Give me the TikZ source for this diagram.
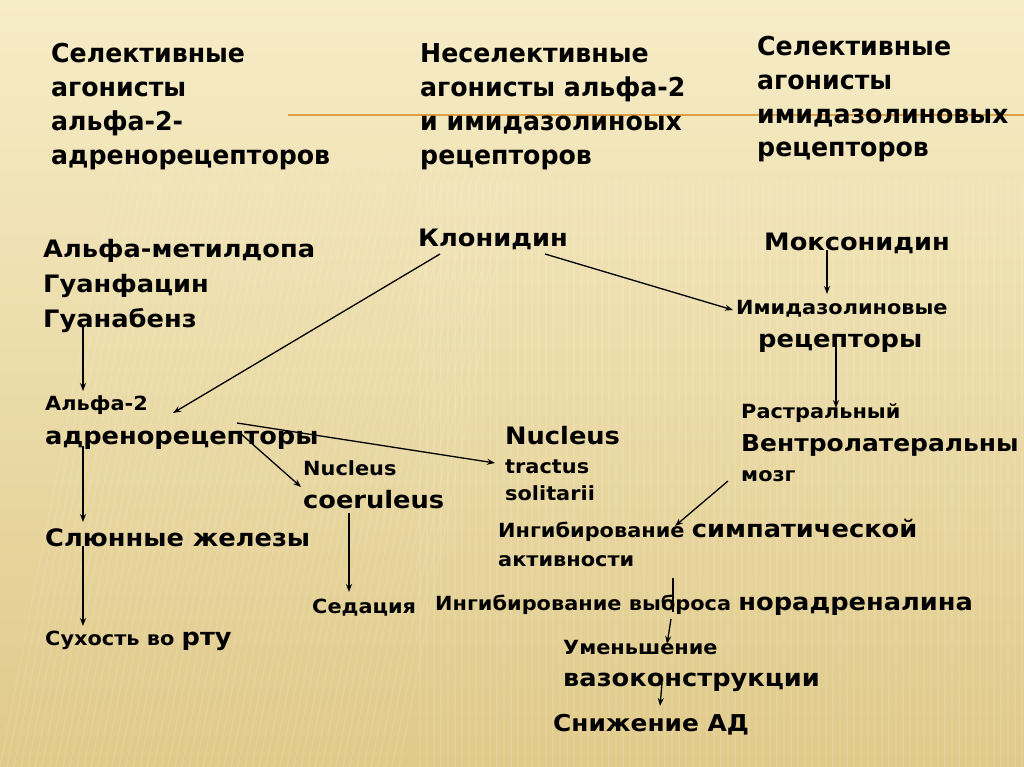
\documentclass[tikz,border=0pt]{standalone}
\usepackage{fontspec}
\setmainfont{DejaVu Sans}
\newfontfamily\hdrfont{DejaVu Sans}[FakeStretch=0.97]
\newfontfamily\bodyfont{DejaVu Sans}[FakeStretch=1.07]
\usetikzlibrary{arrows.meta}
\tikzset{
  hdr/.style={anchor=base west, inner sep=0pt, font=\hdrfont\bfseries\fontsize{26}{30}\selectfont},
  big/.style={anchor=base west, inner sep=0pt, font=\bodyfont\bfseries\fontsize{24}{28}\selectfont},
  sml/.style={anchor=base west, inner sep=0pt, font=\bodyfont\bfseries\fontsize{19.5}{22}\selectfont},
  arr/.style={draw=black, line width=1.3pt, -{Stealth[length=8pt,width=6pt]}},
  ln/.style={draw=black, line width=1.3pt},
  stripe/.style={draw=white, line width=1.6pt, opacity=0.10}
}
\newcommand{\Bg}{\fontsize{24}{28}\selectfont}
\begin{document}
\begin{tikzpicture}[x=1pt,y=-1pt]
\useasboundingbox (0,0) rectangle (1024,767);
\shade[top color={rgb,255:red,246;green,236;blue,198}, bottom color={rgb,255:red,224;green,202;blue,138}] (0,0) rectangle (1024,767);
% texture stripes
\begin{scope}
\clip (0,0) rectangle (1024,767);
\foreach \i in {0,7,...,400} { \draw[stripe] (\i,767) -- (\i+120,150); }
\foreach \i in {420,427,...,1024} { \draw[stripe] (\i,180) -- (\i,767); }
\end{scope}
% orange rule
\draw[line width=2.5pt, draw={rgb,255:red,222;green,160;blue,70}] (288,115) -- (1024,115);
% headers
\node[hdr] (h1a) at (51,63) {Селективные};
\node[hdr] (h1b) at (51,97) {агонисты};
\node[hdr] (h1c) at (51,131) {альфа-2-};
\node[hdr] (h1d) at (51,165) {адренорецепторов};
\node[hdr] (h2a) at (420,63) {Неселективные};
\node[hdr] (h2b) at (420,97) {агонисты альфа-2};
\node[hdr] (h2c) at (420,131) {и имидазолиноых};
\node[hdr] (h2d) at (420,165) {рецепторов};
\node[hdr] (h3a) at (757,56) {Селективные};
\node[hdr] (h3b) at (757,90) {агонисты};
\node[hdr] (h3c) at (757,124) {имидазолиновых};
\node[hdr] (h3d) at (757,157) {рецепторов};
% left column
\node[big] (amd) at (43,258) {Альфа-метилдопа};
\node[big] (gf) at (43,292) {Гуанфацин};
\node[big] (gb) at (43,327) {Гуанабенз};
\node[sml] (a2) at (45,410) {Альфа-2};
\node[big] (adr) at (45,444) {адренорецепторы};
\node[big] (sal) at (45,546) {Слюнные железы};
\node[sml] (dry) at (45,645) {Сухость во \Bg рту};
% middle
\node[big] (klo) at (418,246) {Клонидин};
\node[sml] (nc1) at (303,475) {Nucleus};
\node[big] (nc2) at (303,508) {coeruleus};
\node[sml] (sed) at (312,613) {Седация};
\node[big] (nt1) at (505,444) {Nucleus};
\node[sml] (nt2) at (505,473) {tractus};
\node[sml] (nt3) at (505,500) {solitarii};
\node[sml] (ing) at (498,537) {Ингибирование \Bg симпатической};
\node[sml] (akt) at (498,566) {активности};
\node[sml] (vyb) at (435,610) {Ингибирование выброса \Bg норадреналина};
\node[sml] (um) at (563,654) {Уменьшение};
\node[big] (vaz) at (563,686) {вазоконструкции};
\node[big, font=\bodyfont\bfseries\fontsize{23.2}{28}\selectfont] (ad) at (553,731) {Снижение АД};
% right
\node[big] (mox) at (764,250) {Моксонидин};
\node[sml] (imr) at (736,314) {Имидазолиновые};
\node[big] (rec) at (758,347) {рецепторы};
\node[sml] (ras) at (741,418) {Растральный};
\node[big, font=\bodyfont\bfseries\fontsize{23.3}{28}\selectfont] (ven) at (741,451) {Вентролатеральны};
\node[sml] (moz) at (741,481) {мозг};
% connector points
\coordinate (k1) at (440,254);
\coordinate (k1e) at (173,413);
\coordinate (k2) at (545,254);
\coordinate (k2e) at (733,310);
\coordinate (m1) at (827,250);
\coordinate (m1e) at (827,294);
\coordinate (r1) at (836,345);
\coordinate (r1e) at (836,408);
\coordinate (g1) at (83,327);
\coordinate (g1e) at (83,391);
\coordinate (d1) at (237,423);
\coordinate (d1e) at (495,463);
\coordinate (d2) at (240,433);
\coordinate (d2e) at (301,487);
\coordinate (d3) at (83,446);
\coordinate (d3e) at (83,522);
\coordinate (s1) at (83,546);
\coordinate (s1e) at (83,626);
\coordinate (c1) at (349,513);
\coordinate (c1e) at (349,592);
\coordinate (z1) at (728,481);
\coordinate (z1e) at (675,526);
\coordinate (i1) at (673,578);
\coordinate (i1e) at (673,612);
\coordinate (v1) at (671,619);
\coordinate (v1e) at (667,644);
\coordinate (u1) at (662,683);
\coordinate (u1e) at (660,706);
\draw[arr] (k1) -- (k1e);
\draw[arr] (k2) -- (k2e);
\draw[arr] (m1) -- (m1e);
\draw[arr] (r1) -- (r1e);
\draw[arr] (g1) -- (g1e);
\draw[arr] (d1) -- (d1e);
\draw[arr] (d2) -- (d2e);
\draw[arr] (d3) -- (d3e);
\draw[arr] (s1) -- (s1e);
\draw[arr] (c1) -- (c1e);
\draw[arr] (z1) -- (z1e);
\draw[ln] (i1) -- (i1e);
\draw[arr] (v1) -- (v1e);
\draw[arr] (u1) -- (u1e);
\end{tikzpicture}
\end{document}
